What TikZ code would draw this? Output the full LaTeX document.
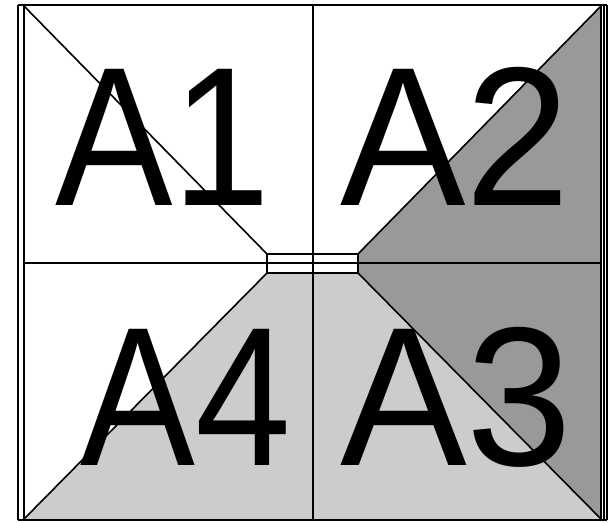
\documentclass[tikz,border=0pt]{standalone}
\usepackage{fontspec}
\setmainfont{Liberation Sans}
\definecolor{darkgr}{HTML}{999999}
\definecolor{lightgr}{HTML}{CCCCCC}
\begin{document}
\begin{tikzpicture}[x=1pt,y=-1pt,
  edge/.style={line width=1.6pt,black},
  big/.style={inner sep=0pt,anchor=base west,font=\fontsize{198}{200}\selectfont}]
\useasboundingbox (0,0) rectangle (613,522);
% fills
\fill[darkgr] (601,6) -- (358,254) -- (358,273) -- (601,519) -- cycle;
\fill[lightgr] (24,519) -- (267,273) -- (358,273) -- (601,519) -- cycle;
\fill[white] (267,254) rectangle (358,273);
% outer frame
\draw[edge] (18,5) -- (607,5);
\draw[edge] (18,520) -- (607,520);
\draw[edge] (18,5) -- (18,520);
\draw[edge] (24,5) -- (24,520);
\draw[edge] (601,5) -- (601,520);
\draw[edge] (604,5) -- (604,520);
\draw[edge] (607,5) -- (607,520);
% diagonals
\draw[edge] (24,6) -- (267,254);
\draw[edge] (601,6) -- (358,254);
\draw[edge] (24,519) -- (267,273);
\draw[edge] (601,519) -- (358,273);
% centre rectangle and cross
\draw[edge] (267,254) rectangle (358,273);
\draw[edge] (313,5) -- (313,520);
\draw[edge] (24,263) -- (601,263);
% labels
\node[big,xscale=0.89] (a1) at (55,205) {A1};
\node[big,xscale=0.95] (a2) at (340,205) {A2};
\node[big,xscale=0.96] (a3) at (340,465) {A3};
\node[big,xscale=0.87] (a4) at (80,465) {A4};
\end{tikzpicture}
\end{document}
